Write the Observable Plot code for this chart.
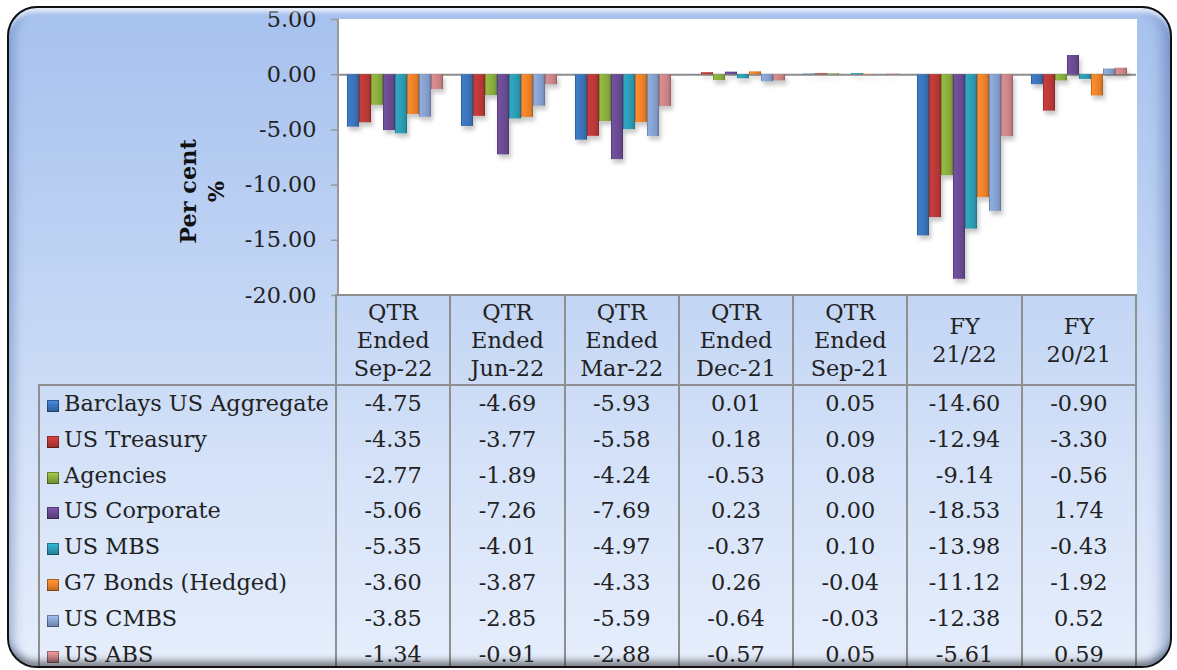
<!DOCTYPE html>
<html><head><meta charset="utf-8">
<script src="https://cdn.jsdelivr.net/npm/d3@7"></script>
<script src="https://cdn.jsdelivr.net/npm/@observablehq/plot@0.6"></script>
<style>
body{margin:0;background:#fff;}
#wrap{position:relative;width:1177px;height:670px;overflow:hidden;background:#fff;font-family:"DejaVu Serif",serif;}
#bg{position:absolute;left:7px;top:6px;width:1165px;height:662px;box-sizing:border-box;border-radius:30px;background:linear-gradient(180deg,#a6c1ee 0%,#bcd1f3 35%,#d5e2f8 70%,#e6eefc 100%);}
#plotbg{position:absolute;left:337px;top:19px;width:800px;height:276px;background:#fff;box-sizing:border-box;border-left:2px solid #999;}
#chart{position:absolute;left:0;top:0;}
#tbl{position:absolute;left:38px;top:294px;width:1110px;height:372px;overflow:hidden;}
#tbl table{border-collapse:collapse;table-layout:fixed;width:1099px;font-size:22.4px;color:#222;}
#tbl td,#tbl th{border:2px solid #8f8f8f;padding:0;text-align:center;font-weight:normal;white-space:nowrap;}
#tbl thead th{height:88px;line-height:28px;}
#tbl thead th.corner{border-top:none;border-left:none;}
#tbl tbody td{border-top:none;border-bottom:none;height:35.8px;line-height:35.8px;}
#tbl tbody td.name{text-align:left;padding-left:7px;}
.sw{display:inline-block;width:12px;height:12px;margin-right:5px;vertical-align:-1px;box-shadow:inset 0 0 0 1px rgba(0,0,0,.35);}
#bevel{position:absolute;left:7px;top:6px;width:1165px;height:662px;box-sizing:border-box;border:2.5px solid #111;border-radius:30px;box-shadow:inset 0 8px 4px -4px rgba(255,255,255,.75),inset -16px 0 12px -8px rgba(70,100,160,.45),inset 14px 0 10px -8px rgba(70,100,160,.35),inset 0 -10px 7px -5px rgba(40,40,40,.55);pointer-events:none;}
</style></head>
<body>
<div id="wrap">
  <div id="bg"></div>
  <div id="plotbg"></div>
  <div id="chart"></div>
  <div id="tbl"></div>
  <div id="bevel"></div>
</div>
<script>
// ---- data ----
const periods = ["QTR Ended Sep-22","QTR Ended Jun-22","QTR Ended Mar-22","QTR Ended Dec-21","QTR Ended Sep-21","FY 21/22","FY 20/21"];
const periodLabels = [["QTR","Ended","Sep-22"],["QTR","Ended","Jun-22"],["QTR","Ended","Mar-22"],["QTR","Ended","Dec-21"],["QTR","Ended","Sep-21"],["FY","21/22"],["FY","20/21"]];
const seriesNames = ["Barclays US Aggregate","US Treasury","Agencies","US Corporate","US MBS","G7 Bonds (Hedged)","US CMBS","US ABS"];
const seriesColors = ["#3b76bd","#be3a38","#8cb03e","#6c4c96","#2c9fb8","#f0842a","#88a3d2","#d0878a"];
const barclaysUSAggregate = [-4.75,-4.69,-5.93,0.01,0.05,-14.60,-0.90];
const usTreasury          = [-4.35,-3.77,-5.58,0.18,0.09,-12.94,-3.30];
const agencies            = [-2.77,-1.89,-4.24,-0.53,0.08,-9.14,-0.56];
const usCorporate         = [-5.06,-7.26,-7.69,0.23,0.00,-18.53,1.74];
const usMBS               = [-5.35,-4.01,-4.97,-0.37,0.10,-13.98,-0.43];
const g7BondsHedged       = [-3.60,-3.87,-4.33,0.26,-0.04,-11.12,-1.92];
const usCMBS              = [-3.85,-2.85,-5.59,-0.64,-0.03,-12.38,0.52];
const usABS               = [-1.34,-0.91,-2.88,-0.57,0.05,-5.61,0.59];
const yTicks = [5,0,-5,-10,-15,-20];
const yLabel = "Per cent\n%";

const seriesValues = [barclaysUSAggregate,usTreasury,agencies,usCorporate,usMBS,g7BondsHedged,usCMBS,usABS];
const data = [];
seriesNames.forEach((s,i)=>periods.forEach((p,j)=>data.push({series:s,period:p,value:seriesValues[i][j]})));

// ---- chart ----
const chart = Plot.plot({
  width:1177, height:300,
  marginTop:19, marginBottom:5, marginLeft:337, marginRight:40,
  style:{background:"transparent", fontFamily:"DejaVu Serif, serif", fontSize:"22px", color:"#222", overflow:"visible"},
  fx:{domain:periods, padding:0, axis:null},
  x:{domain:seriesNames, paddingInner:0, paddingOuter:0.62, axis:null},
  y:{domain:[-20,5], axis:null},
  color:{domain:seriesNames, range:seriesNames.map((s,i)=>`url(#grad${i})`)},
  marks:[
    Plot.ruleY([0],{stroke:"#8c8c8c", strokeWidth:2}),
    Plot.barY(data,{fx:"period", x:"series", y:"value", fill:"series"}),
    Plot.axisY({ticks:yTicks, tickFormat:d=>d.toFixed(2), tickSize:7, tickPadding:15, stroke:"#999", strokeWidth:1.5, fill:"#222", fontSize:22.4, label:null}),
    Plot.text([yLabel],{fx:()=>periods[0], frameAnchor:"left", textAnchor:"middle", rotate:-90, dx:-137, dy:34, fontWeight:"bold", fontSize:22.4, fill:"#111", lineHeight:1.25})
  ]
});

// gradients for bevelled bars
const ns = "http://www.w3.org/2000/svg";
const defs = document.createElementNS(ns,"defs");
seriesColors.forEach((c,i)=>{
  const g = document.createElementNS(ns,"linearGradient");
  g.setAttribute("id",`grad${i}`);
  g.setAttribute("x1","0");g.setAttribute("y1","0");g.setAttribute("x2","1");g.setAttribute("y2","0");
  const base = d3.color(c);
  [[0,base.darker(0.9)],[0.12,base.brighter(0.15)],[0.5,base],[0.85,base.darker(0.25)],[1,base.darker(1.1)]].forEach(([o,col])=>{
    const st = document.createElementNS(ns,"stop");
    st.setAttribute("offset",o);st.setAttribute("stop-color",col.formatHex());
    g.appendChild(st);
  });
  defs.appendChild(g);
});
chart.insertBefore(defs, chart.firstChild);
chart.querySelectorAll('g[aria-label="bar"]').forEach(g=>g.style.filter="drop-shadow(2px 4px 2px rgba(0,0,0,0.22))");
document.getElementById("chart").appendChild(chart);

// ---- table ----
const table = document.createElement("table");
const colgroup = document.createElement("colgroup");
[297,...periods.map(()=>800/7)].forEach(w=>{const c=document.createElement("col");c.style.width=w+"px";colgroup.appendChild(c);});
table.appendChild(colgroup);
const thead = document.createElement("thead");
const hr = document.createElement("tr");
const corner = document.createElement("th"); corner.className="corner"; hr.appendChild(corner);
periodLabels.forEach(lines=>{const th=document.createElement("th");th.innerHTML=lines.join("<br>");hr.appendChild(th);});
thead.appendChild(hr); table.appendChild(thead);
const tbody = document.createElement("tbody");
seriesNames.forEach((s,i)=>{
  const tr = document.createElement("tr");
  const nm = document.createElement("td"); nm.className="name";
  const sw = document.createElement("span"); sw.className="sw";
  const c = d3.color(seriesColors[i]);
  sw.style.background = `linear-gradient(180deg, ${c.brighter(0.5).formatHex()} 0%, ${c.formatHex()} 45%, ${c.darker(0.7).formatHex()} 100%)`;
  nm.appendChild(sw); nm.appendChild(document.createTextNode(s));
  tr.appendChild(nm);
  seriesValues[i].forEach(v=>{const td=document.createElement("td");td.textContent=v.toFixed(2);tr.appendChild(td);});
  tbody.appendChild(tr);
});
table.appendChild(tbody);
document.getElementById("tbl").appendChild(table);
</script>
</body></html>
